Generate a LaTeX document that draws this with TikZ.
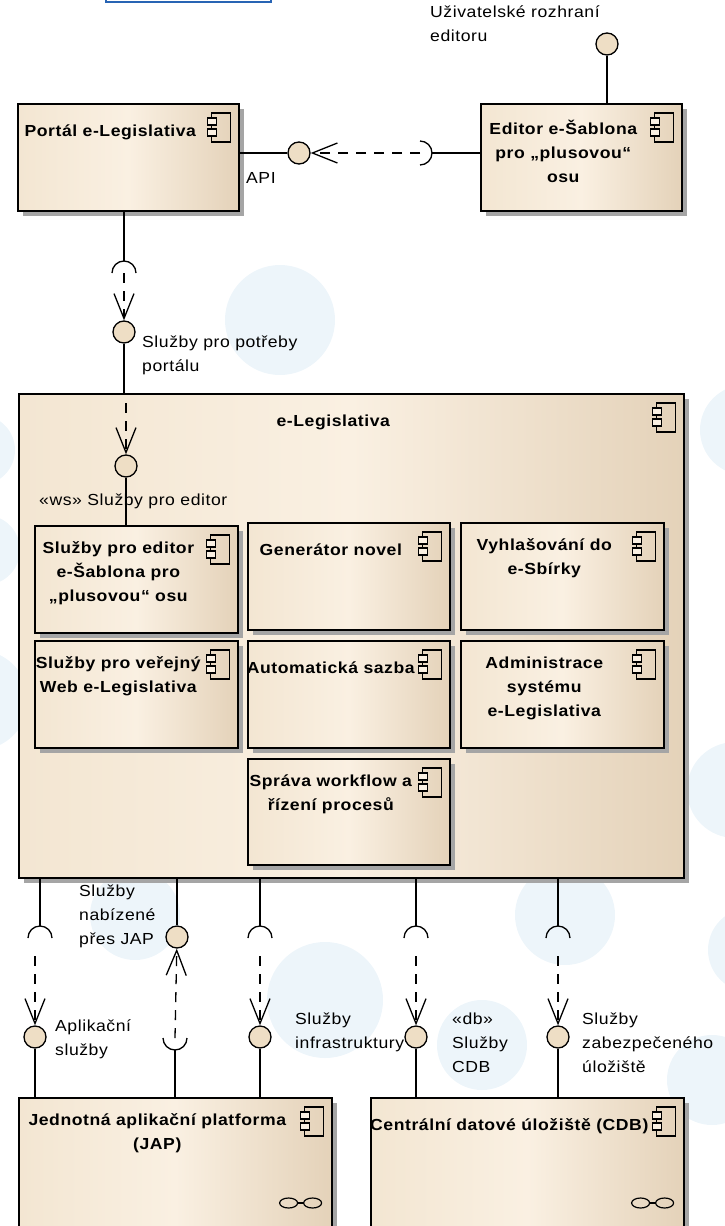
\documentclass[tikz,border=0pt]{standalone}
\usepackage{fontspec}
\setmainfont{Liberation Sans}[FakeStretch=1.1, LetterSpace=3.5]
\usetikzlibrary{arrows.meta,shadows,calc}

\definecolor{boxL}{RGB}{243,230,210}
\definecolor{boxM}{RGB}{250,240,226}
\definecolor{boxR}{RGB}{228,210,185}
\definecolor{ifill}{RGB}{238,222,197}
\definecolor{shadowgray}{RGB}{165,165,165}
\definecolor{fragblue}{RGB}{40,100,180}
\definecolor{blobc}{RGB}{237,245,250}

\tikzset{
  compbox/.style={draw=black, line width=1.6pt, left color=boxL, right color=boxR, middle color=boxM,
    drop shadow={shadow xshift=5pt, shadow yshift=-5pt, fill=shadowgray, opacity=1}},
  comptext/.style={font=\bfseries\fontsize{16}{24}\selectfont, align=center, inner sep=0pt,
    execute at begin node=\strut},
  lbl/.style={font=\fontsize{16}{24}\selectfont, align=left, inner sep=0pt,
    execute at begin node=\strut},
  iface/.style={circle, draw, line width=1.3pt, fill=ifill, minimum size=22pt, inner sep=0pt},
  conn/.style={line width=1.3pt},
  dep/.style={conn, dash pattern=on 10pt off 8pt, -{Straight Barb[length=25pt,width=20pt]}},
  cicon/.pic={
    \draw[line width=1.2pt] (-28,10) rectangle (-9,39);
    \draw[line width=1.2pt, fill=boxM] (-32,15) rectangle (-23,22);
    \draw[line width=1.2pt, fill=boxM] (-32,26) rectangle (-23,33);
  },
  subsys/.pic={
    \draw[line width=1.2pt] (-44,106) ellipse [x radius=9, y radius=5];
    \draw[line width=1.2pt] (-20,106) ellipse [x radius=9, y radius=5];
    \draw[line width=1.2pt] (-35,106) -- (-29,106);
  }
}

% box, its name and the component icon
\newcommand{\comp}[6]{%
  \node[compbox, minimum width=#4, minimum height=#5, anchor=north west] (#1) at (#2,#3) {};
  \node[comptext, anchor=north] (#1txt) at ($(#1.north)+(-18,16.5)$) {#6};
  \pic at (#1.north east) {cicon};
}

\begin{document}
\begin{tikzpicture}[x=1pt, y=-1pt]
\useasboundingbox (0,0) rectangle (724,1226);

% background blobs
\fill[blobc] (280,320) circle (55);
\fill[blobc] (135,915) circle (45);
\fill[blobc] (325,1000) circle (58);
\fill[blobc] (565,915) circle (50);
\fill[blobc] (482,1045) circle (45);
\fill[blobc] (745,430) circle (45);
\fill[blobc] (735,790) circle (48);
\fill[blobc] (750,950) circle (42);
\fill[blobc] (712,1080) circle (45);
\fill[blobc] (-20,450) circle (35);
\fill[blobc] (-15,550) circle (35);
\fill[blobc] (-22,700) circle (50);

\draw[line width=2pt, draw=fragblue] (106,-10) rectangle (271,1.5);

% top components
\comp{portal}{17}{103}{221}{107}{Portál e-Legislativa}
\comp{editor}{480}{103}{201}{107}{Editor e-Šablona\\pro „plusovou“\\osu}

% e-Legislativa and its parts
\comp{eleg}{18}{393}{665}{484}{e-Legislativa}
\comp{svced}{34}{525}{203}{107}{Služby pro editor\\e-Šablona pro\\„plusovou“ osu}
\comp{gennov}{247}{522}{202}{107}{Generátor novel}
\comp{vyhl}{460}{522}{203}{107}{Vyhlašování do\\e-Sbírky}
\comp{svweb}{34}{640}{203}{107}{Služby pro veřejný\\Web e-Legislativa}
\comp{sazba}{247}{640}{202}{107}{Automatická sazba}
\comp{admin}{460}{640}{203}{107}{Administrace\\systému\\e-Legislativa}
\comp{wflow}{247}{758}{202}{106}{Správa workflow a\\řízení procesů}

% bottom components
\comp{jap}{18}{1097}{313}{150}{Jednotná aplikační platforma\\(JAP)}
\comp{cdb}{370}{1097}{313}{150}{Centrální datové úložiště (CDB)}
\pic at (jap.north east) {subsys};
\pic at (cdb.north east) {subsys};

% interfaces
\node[iface] (uirozh) at (607,44) {};
\node[iface] (api) at (299,153) {};
\node[iface] (portsl) at (124,332) {};
\node[iface] (wssl) at (126,466) {};
\node[iface] (nabsl) at (177,937) {};
\node[iface] (aplsl) at (35,1037) {};
\node[iface] (infsl) at (260,1037) {};
\node[iface] (dbsl) at (416,1037) {};
\node[iface] (zabsl) at (558,1037) {};

\coordinate (apisock) at (420,153);
\coordinate (portsock) at (124,273);
\coordinate (req1) at (40,938);
\coordinate (req2) at (175,1038);
\coordinate (req3) at (260,938);
\coordinate (req4) at (416,938);
\coordinate (req5) at (558,938);

% editor and portal
\draw[conn] (uirozh) -- (uirozh |- editor.north);
\draw[conn] (portal.east |- api) -- (api);
\draw[dep] (apisock) -- (api);
\draw[conn] ([yshift=12pt]apisock) arc[start angle=-90, end angle=90, radius=12];
\draw[conn] ([xshift=12pt]apisock) -- (editor.west |- apisock);

\draw[conn] (portsock |- portal.south) -- ([yshift=12pt]portsock);
\draw[conn] ([xshift=-12pt]portsock) arc[start angle=180, end angle=360, radius=12];
\draw[dep] (portsock) -- (portsl);
\draw[conn] (portsl) -- (portsl |- eleg.north);
\draw[dep] ($(wssl |- eleg.north)+(0,10)$) -- (wssl);
\draw[conn] (wssl) -- (wssl |- svced.north);

% lower interfaces
\foreach \s/\i/\b in {req1/aplsl/jap, req3/infsl/jap, req4/dbsl/cdb, req5/zabsl/cdb}{
  \draw[conn] (\s |- eleg.south) -- ([yshift=12pt]\s);
  \draw[conn] ([xshift=-12pt]\s) arc[start angle=180, end angle=360, radius=12];
  \draw[dep] ($(\s -| \i)+(0,18)$) -- (\i);
  \draw[conn] (\i) -- (\i |- \b.north);
}
\draw[conn] (nabsl |- eleg.south) -- (nabsl);
\draw[dep] (req2) -- (nabsl);
\draw[conn] ([xshift=-12pt]req2) arc[start angle=180, end angle=0, radius=12];
\draw[conn] ([yshift=-12pt]req2) -- (req2 |- jap.north);

% labels
\node[lbl, anchor=north west] (uirozhtx) at (430,6) {Uživatelské rozhraní\\editoru};
\node[lbl, anchor=north west] (apitx) at (246,166) {API};
\node[lbl, anchor=north west] (portsltx) at (142,336) {Služby pro potřeby\\portálu};
\node[lbl, anchor=north west] (wssltx) at (39,488) {«ws» Služby pro editor};
\node[lbl, anchor=north west] (nabsltx) at (79,885) {Služby\\nabízené\\přes JAP};
\node[lbl, anchor=north west] (aplsltx) at (55,1020) {Aplikační\\služby};
\node[lbl, anchor=north west] (infsltx) at (295,1013) {Služby\\infrastruktury};
\node[lbl, anchor=north west] (dbsltx) at (452,1013) {«db»\\Služby\\CDB};
\node[lbl, anchor=north west] (zabsltx) at (582,1013) {Služby\\zabezpečeného\\úložiště};

\end{tikzpicture}
\end{document}
